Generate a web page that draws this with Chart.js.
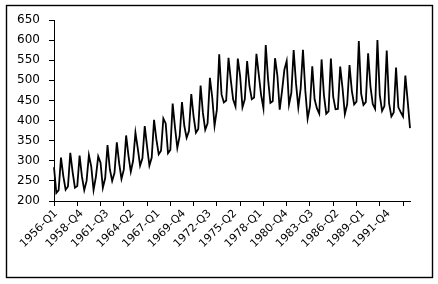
<!DOCTYPE html>
<html>
<head>
<meta charset="utf-8">
<script src="https://cdn.jsdelivr.net/npm/chart.js@4/dist/chart.umd.min.js"></script>
<style>
  body { margin: 0; background: #fff; }
  canvas { display: block; }
</style>
</head>
<body>
<canvas id="beerChart" width="438" height="284"></canvas>
<script>
// Quarterly values, 1956-Q1 to 1994-Q2
const startYear = 1956;
const production = [
  284, 220, 227, 308,  262, 228, 236, 320,  272, 233, 237, 313,
  261, 227, 250, 314,  286, 227, 260, 311,  295, 233, 257, 339,
  279, 250, 270, 346,  294, 255, 278, 363,  313, 273, 300, 370,
  331, 288, 306, 386,  335, 288, 308, 402,  353, 316, 325, 405,
  393, 319, 327, 442,  383, 332, 361, 446,  387, 357, 374, 466,
  410, 370, 379, 487,  419, 377, 393, 506,  458, 387, 427, 565,
  465, 445, 450, 556,  500, 452, 435, 554,  510, 433, 453, 548,
  486, 453, 457, 566,  515, 464, 431, 588,  503, 444, 448, 555,
  512, 427, 473, 526,  548, 440, 469, 575,  493, 433, 479, 576,
  475, 405, 435, 535,  453, 430, 417, 552,  464, 417, 423, 554,
  459, 428, 429, 534,  481, 416, 440, 538,  474, 440, 447, 598,
  467, 439, 446, 567,  485, 441, 429, 600,  464, 424, 436, 574,
  443, 410, 420, 532,  433, 421, 410, 512,  449, 381
];
const yTicks = [200, 250, 300, 350, 400, 450, 500, 550, 600, 650];

const quarterLabels = [];
for (let i = 0; i < production.length; i++) {
    quarterLabels.push((startYear + Math.floor(i / 4)) + '-Q' + (i % 4 + 1));
}

// outer frame like the spreadsheet chart
const framePlugin = {
    id: 'frame',
    afterDraw(chart) {
        const c = chart.ctx;
        c.save();
        c.strokeStyle = '#000';
        c.lineWidth = 1.4;
        c.strokeRect(6.5, 5.5, 426, 272);
        c.restore();
    }
};

const ctx = document.getElementById('beerChart').getContext('2d');
new Chart(ctx, {
    type: 'line',
    data: {
        labels: quarterLabels,
        datasets: [{
            data: production,
            borderColor: '#000',
            borderWidth: 1.8,
            pointRadius: 0,
            tension: 0,
            fill: false
        }]
    },
    options: {
        responsive: false,
        animation: false,
        devicePixelRatio: 1,
        layout: { padding: { left: 0, top: 20, right: 28, bottom: 0 } },
        plugins: { legend: { display: false }, tooltip: { enabled: false } },
        scales: {
            x: {
                offset: false,
                afterFit(scale) { scale.height = 83; },
                grid: {
                    drawOnChartArea: false,
                    tickLength: 5,
                    // tick marks every 10 quarters, labels every 11
                    color: (c) => (c.index % 10 === 0 ? '#000' : 'rgba(0,0,0,0)')
                },
                border: { display: true, color: '#000', width: 1 },
                ticks: {
                    autoSkip: false,
                    maxRotation: 45,
                    minRotation: 45,
                    padding: 1,
                    labelOffset: 2,
                    color: '#000',
                    font: { family: 'DejaVu Sans', size: 11 },
                    callback: (v, i) => (i % 11 === 0 ? quarterLabels[i] : '')
                }
            },
            y: {
                min: yTicks[0],
                max: yTicks[yTicks.length - 1],
                afterFit(scale) { scale.width = 54; },
                afterBuildTicks(scale) { scale.ticks = yTicks.map(v => ({ value: v })); },
                grid: { drawOnChartArea: false, tickLength: 5, color: '#000' },
                border: { display: true, color: '#000', width: 1 },
                ticks: {
                    padding: 9,
                    color: '#000',
                    font: { family: 'DejaVu Sans', size: 12 }
                }
            }
        }
    },
    plugins: [framePlugin]
});
</script>
</body>
</html>
